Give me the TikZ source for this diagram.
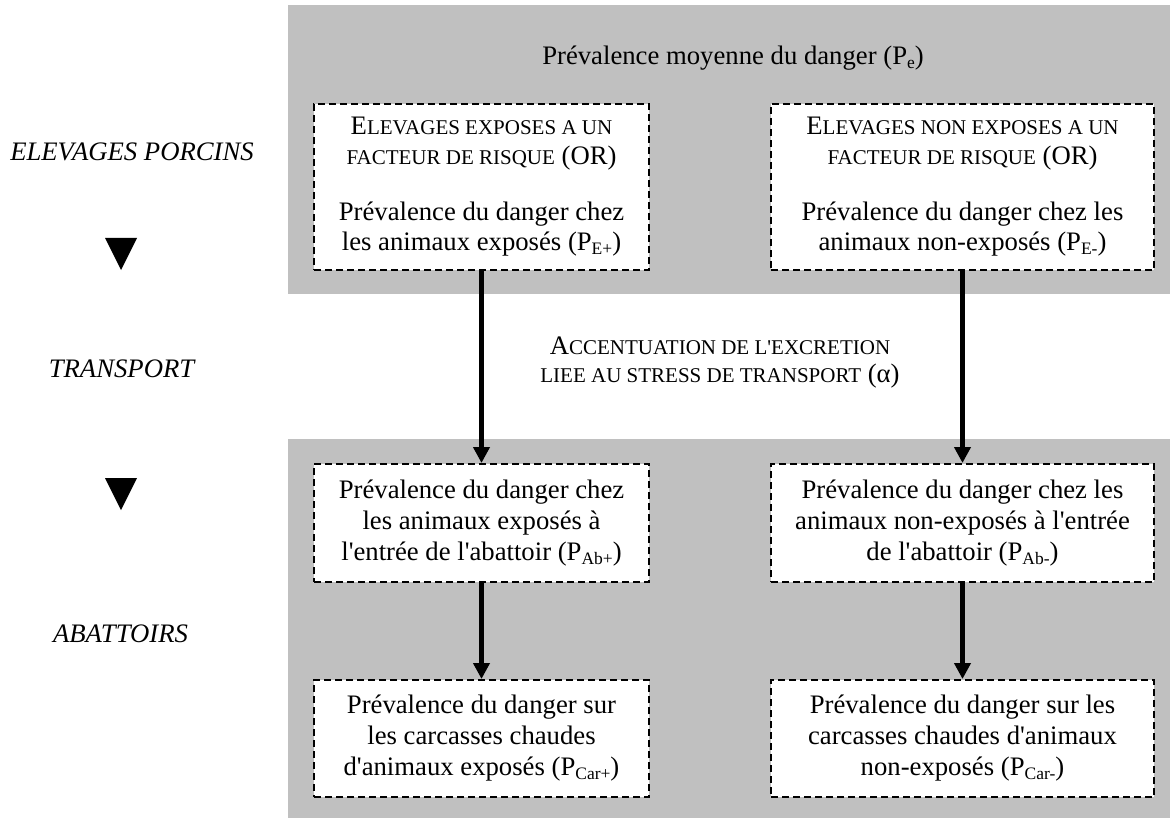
\documentclass[tikz,border=0pt]{standalone}
\usepackage{fontspec}
\setmainfont{Liberation Serif}[Ligatures=TeXOff]
\usetikzlibrary{arrows.meta}
\definecolor{bandgray}{RGB}{192,192,192}
\newcommand\smc[1]{{\fontsize{21}{21}\selectfont #1}}
\newcommand\sbs[1]{\raisebox{-4pt}{\fontsize{17.5}{17.5}\selectfont #1}}
\begin{document}
\begin{tikzpicture}[x=1pt,y=-1pt,
  txt/.style={font=\fontsize{26.7}{31}\selectfont, inner sep=0pt},
  dbox/.style={draw=black, fill=white, line width=2pt, dash pattern=on 7pt off 4pt,
    align=center, inner sep=0pt, font=\fontsize{26.7}{31}\selectfont},
  arr/.style={line width=5pt, -{Triangle[length=16pt,width=16pt]}},
  lab/.style={font=\fontsize{26.7}{31}\selectfont\itshape, inner sep=0pt, anchor=base},
]
\useasboundingbox (0,0) rectangle (1170,821);
\fill[white] (0,0) rectangle (1170,821);
\fill[bandgray] (288,5) rectangle (1170,294);
\fill[bandgray] (288,439) rectangle (1170,818);

% left labels
\node[lab] (lab1) at (132,161) {ELEVAGES PORCINS};
\node[lab] (lab2) at (121.5,377) {TRANSPORT};
\node[lab] (lab3) at (120.5,642) {ABATTOIRS};
\fill (105,238) -- (137,238) -- (121,270) -- cycle;
\fill (105,478) -- (137,478) -- (121,510) -- cycle;

% top title
\node[txt, anchor=base] (pe) at (733,65) {Prévalence moyenne du danger (P\sbs{e})};

% transport text
\node[txt, align=center, font=\fontsize{26.7}{28}\selectfont] (stress) at (720,363)
  {A\smc{CCENTUATION DE L'EXCRETION}\\ \smc{LIEE AU STRESS DE TRANSPORT} (α)};

% boxes
\node[dbox, minimum width=335pt, minimum height=166pt, font=\fontsize{26.7}{30}\selectfont] (t1) at (481.5,187)
  {E\smc{LEVAGES EXPOSES A UN}\\ \smc{FACTEUR DE RISQUE} (OR)\\[26pt]
   Prévalence du danger chez\\ les animaux exposés (P\sbs{E+})};
\node[dbox, minimum width=383pt, minimum height=166pt, font=\fontsize{26.7}{30}\selectfont] (t2) at (962.5,187)
  {E\smc{LEVAGES NON EXPOSES A UN}\\ \smc{FACTEUR DE RISQUE} (OR)\\[26pt]
   Prévalence du danger chez les\\ animaux non-exposés (P\sbs{E-})};
\node[dbox, minimum width=335pt, minimum height=118pt] (a1) at (481.5,523)
  {Prévalence du danger chez\\ les animaux exposés à\\ l'entrée de l'abattoir (P\sbs{Ab+})};
\node[dbox, minimum width=383pt, minimum height=118pt] (a2) at (962.5,523)
  {Prévalence du danger chez les\\ animaux non-exposés à l'entrée\\ de l'abattoir (P\sbs{Ab-})};
\node[dbox, minimum width=335pt, minimum height=117pt] (c1) at (481.5,738.5)
  {Prévalence du danger sur\\ les carcasses chaudes\\ d'animaux exposés (P\sbs{Car+})};
\node[dbox, minimum width=383pt, minimum height=117pt] (c2) at (962.5,738.5)
  {Prévalence du danger sur les\\ carcasses chaudes d'animaux\\ non-exposés (P\sbs{Car-})};

% arrows
\draw[arr] (t1.south) -- (a1.north);
\draw[arr] (a1.south) -- (c1.north);
\draw[arr] (t2.south) -- (a2.north);
\draw[arr] (a2.south) -- (c2.north);
\end{tikzpicture}
\end{document}
